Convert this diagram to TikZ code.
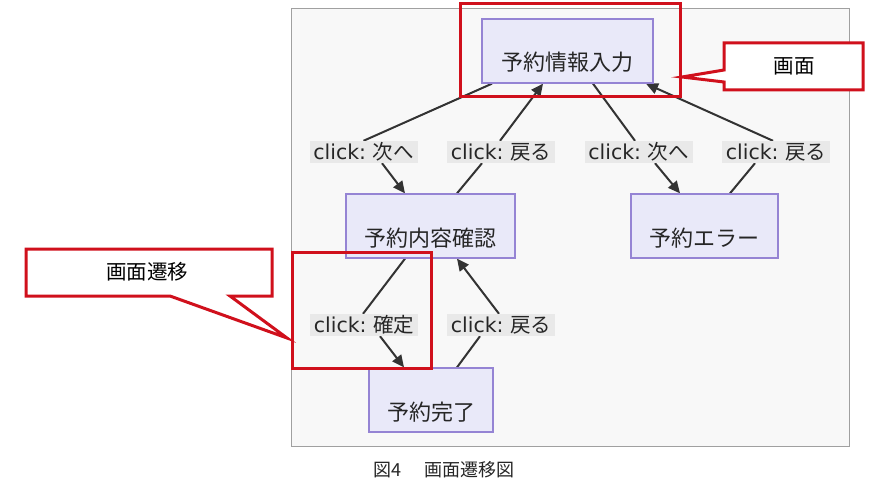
\documentclass[tikz,border=0pt]{standalone}
\usepackage{fontspec}
\newfontfamily\cjk{Noto Sans CJK JP}
\newfontfamily\lat{DejaVu Sans}
\usetikzlibrary{arrows.meta,calc}
\definecolor{framefill}{HTML}{F8F8F8}
\definecolor{framedraw}{HTML}{A0A0A0}
\definecolor{nodefill}{HTML}{E9E9F9}
\definecolor{nodedraw}{HTML}{9584D4}
\definecolor{lblfill}{HTML}{E9E9E9}
\definecolor{edgecol}{HTML}{333333}
\definecolor{redcol}{HTML}{D0101C}
\newcommand\lbltxt[1]{{\lat click:\ }{\cjk #1}}
\newcommand\lowtxt[1]{\raisebox{-20pt}[0pt][0pt]{#1}}
\pgfdeclarelayer{bglayer}
\pgfdeclarelayer{edgelayer}
\pgfsetlayers{bglayer,edgelayer,main}
\begin{document}
\begin{tikzpicture}[x=1pt,y=-1pt,
  screen/.style={draw=nodedraw,fill=nodefill,line width=1.3pt,inner sep=0pt,
    font=\cjk\fontsize{22}{26}\selectfont,text=black!85},
  elabel/.style={fill=lblfill,inner sep=0pt,minimum width=108pt,minimum height=22pt,
    font=\fontsize{20.5}{24}\selectfont,text=black!85},
  edge/.style={draw=edgecol,line width=2pt,-{Triangle[length=12pt,width=11pt]}},
  redbox/.style={draw=redcol,line width=3pt},
  callout/.style={draw=redcol,line width=3pt,fill=white,line join=miter},
  callouttext/.style={font=\cjk\fontsize{20.5}{24}\selectfont,text=black}]
\useasboundingbox (0,0) rectangle (890,500);
\begin{pgfonlayer}{bglayer}
  \fill[white] (0,0) rectangle (890,500);
  \draw[framedraw,fill=framefill,line width=1pt] (291,9) rectangle (849,446);
\end{pgfonlayer}
% screens
\node[screen,minimum width=171pt,minimum height=64pt] (info) at (567.5,51) {\lowtxt{予約情報入力}};
\node[screen,minimum width=169pt,minimum height=64pt] (confirm) at (430.5,226) {\lowtxt{予約内容確認}};
\node[screen,minimum width=147pt,minimum height=64pt] (error) at (704.5,226) {\lowtxt{予約エラー}};
\node[screen,minimum width=124pt,minimum height=64pt] (done) at (431,400) {\lowtxt{予約完了}};
% edge labels
\node[elabel] (l1) at (363.5,152) {\lbltxt{次へ}};
\node[elabel] (l2) at (501,152) {\lbltxt{戻る}};
\node[elabel] (l3) at (638.5,152) {\lbltxt{次へ}};
\node[elabel] (l4) at (776,152) {\lbltxt{戻る}};
\node[elabel] (l5) at (364,325) {\lbltxt{確定}};
\node[elabel] (l6) at (501,325) {\lbltxt{戻る}};
% edges
\begin{pgfonlayer}{edgelayer}
  \draw[edge] ($(info.south)+(-75.5,0)$) -- (l1.north) ($(l1.south)+(18.5,0)$) -- ($(confirm.north)+(-25.5,0)$);
  \draw[edge] ($(confirm.north)+(26.5,0)$) -- ($(l2.south)+(-19,0)$) ($(l2.north)+(-1,0)$) -- ($(info.south)+(-24.5,0)$);
  \draw[edge] ($(info.south)+(25.5,0)$) -- ($(l3.north)+(-3.5,0)$) ($(l3.south)+(16.5,0)$) -- ($(error.north)+(-24.5,0)$);
  \draw[edge] ($(error.north)+(25.5,0)$) -- ($(l4.south)+(-21,0)$) ($(l4.north)+(-3,0)$) -- ($(info.south)+(78.5,0)$);
  \draw[edge] ($(confirm.south)+(-25.5,0)$) -- ($(l5.north)+(-1,0)$) ($(l5.south)+(16,0)$) -- ($(done.north)+(-27,0)$);
  \draw[edge] ($(done.north)+(26,0)$) -- ($(l6.south)+(-21,0)$) ($(l6.north)+(-2,0)$) -- ($(confirm.south)+(26.5,0)$);
\end{pgfonlayer}
% red annotations
\draw[redbox] (460,4) rectangle (680,97);
\draw[redbox] (292,252) rectangle (431,368);
\draw[callout] (724,43) -- (863,43) -- (863,90) -- (724,90) -- (724,82) -- (682,77) -- (724,70) -- cycle;
\node[callouttext] (c1) at (794,66) {画面};
\draw[callout] (26,249) -- (272,249) -- (272,296) -- (230,296) -- (287,338) -- (170,296) -- (26,296) -- cycle;
\node[callouttext] (c2) at (147,272) {画面遷移};
% caption
\node[font=\cjk\fontsize{18}{21}\selectfont,text=black!85] (cap) at (444,470) {図4\hspace{24pt}画面遷移図};
\end{tikzpicture}
\end{document}
